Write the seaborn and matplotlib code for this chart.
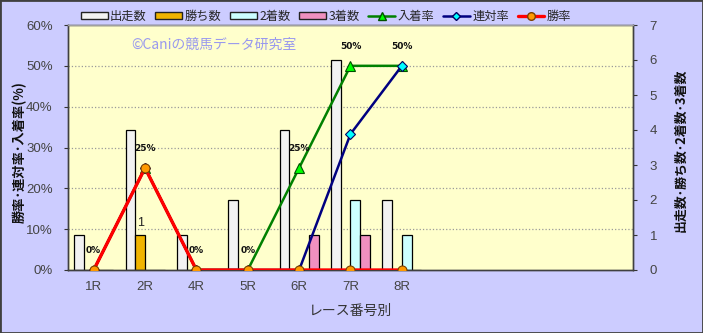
import numpy as np
import pandas as pd
import matplotlib
matplotlib.use('Agg')
import matplotlib.pyplot as plt
import seaborn as sns
from matplotlib.patches import Patch, Rectangle
from matplotlib.lines import Line2D
from matplotlib.ticker import FixedLocator

# ---- data ----
races = ['1R', '2R', '4R', '5R', '6R', '7R', '8R']
starters = [1, 4, 1, 2, 4, 6, 2]
wins = [0, 1, 0, 0, 0, 0, 0]
seconds = [0, 0, 0, 0, 0, 2, 1]
thirds = [0, 0, 0, 0, 1, 1, 0]
place_rate = [0, 25, 0, 0, 25, 50, 50]
rentai_rate = [0, 25, 0, 0, 0, 33.3, 50]
win_rate = [0, 25, 0, 0, 0, 0, 0]
count_names = ['出走数', '勝ち数', '2着数', '3着数']
rate_names = ['入着率', '連対率', '勝率']
rate_ticks = [0, 10, 20, 30, 40, 50, 60]
count_ticks = [0, 1, 2, 3, 4, 5, 6, 7]
n_slots = 11

sns.set_theme(style='white')
plt.rcParams['font.family'] = ['Noto Sans CJK JP', 'DejaVu Sans']

bar_colors = ['#F2F2F2', '#F0B400', '#CCFFFF', '#F090C0']
line_colors = ['#008000', '#000080', '#FF0000']
marker_faces = ['#00FF00', '#00FFFF', '#FF9900']
marker_edges = ['#005000', '#000060', '#7A4000']
markers = ['^', 'D', 'o']
msizes = [7, 5, 6.5]
lwidths = [1.8, 1.8, 2.4]

df_counts = pd.DataFrame({
    'race': races * 4,
    'count': starters + wins + seconds + thirds,
    'series': sum([[n] * len(races) for n in count_names], []),
})
pos = np.arange(len(races))
rates = [place_rate, rentai_rate, win_rate]

fig = plt.figure(figsize=(7.03, 3.33), dpi=100, facecolor='#CCCCFF')
ax = fig.add_axes([68 / 703, 1 - 270 / 333, (633 - 68) / 703, (270 - 25) / 333])
ax2 = ax.twinx()
ax.set_zorder(ax2.get_zorder() + 1)
ax.patch.set_visible(False)
ax2.patch.set_visible(True)
ax2.patch.set_facecolor('#FFFFCC')

# bars (counts, right axis)
sns.barplot(data=df_counts, x='race', y='count', hue='series', order=races,
            hue_order=count_names, palette=bar_colors, saturation=1,
            width=0.76, edgecolor='black', linewidth=0.9, ax=ax2, legend=False)
wins_cont = ax2.containers[1]
ax2.bar_label(wins_cont, labels=[str(v) if v > 0 else '' for v in wins],
              padding=4, fontsize=9, color='#222222', family=['Liberation Sans'])

tick_font = ['Liberation Sans']
ax2.set_ylim(0, 7)
ax2.set_xlim(-0.5, n_slots - 0.5)
ax2.yaxis.set_major_locator(FixedLocator(count_ticks))
ax2.set_yticklabels([str(t) for t in count_ticks], family=tick_font)
ax2.yaxis.set_minor_locator(FixedLocator([k * 7 / 6 for k in range(1, 6)]))
ax2.xaxis.set_minor_locator(FixedLocator([k + 0.5 for k in range(n_slots - 1)]))
ax2.grid(False)
ax2.grid(which='minor', linestyle=':', color='#9A9A9A', linewidth=0.9)
ax2.set_axisbelow(True)
ax2.tick_params(which='minor', length=0)
ax2.tick_params(axis='y', which='major', length=3, width=0.8, color='#333333',
                pad=9, labelsize=9.5, labelcolor='#444444', direction='out', right=True)
ax2.set_ylabel('出走数･勝ち数･2着数･3着数', fontsize=9.3, fontweight='bold',
               rotation=90, color='#111111', va='center')
ax2.yaxis.set_label_coords((680 - 68) / 565, 0.49)

# lines (rates, left axis)
for i, name in enumerate(rate_names):
    sns.lineplot(x=pos, y=rates[i], ax=ax, color=line_colors[i], linewidth=lwidths[i],
                 marker=markers[i], markersize=msizes[i], markerfacecolor=marker_faces[i],
                 markeredgecolor=marker_edges[i], markeredgewidth=0.8,
                 estimator=None, legend=False, zorder=3 + i)
for i, v in enumerate(place_rate):
    ax.annotate(f'{v:.0f}%', (pos[i], v), xytext=(0, 11), textcoords='offset points',
                ha='center', va='bottom', fontsize=6.5, fontweight='bold',
                family=['DejaVu Sans'], color='#111111', zorder=10)

ax.set_ylim(0, 60)
ax.set_xlim(-0.5, n_slots - 0.5)
ax.set_yticks(rate_ticks)
ax.set_yticklabels([f'{t}%' for t in rate_ticks], family=tick_font)
ax.set_xticks(pos)
ax.set_xticklabels(races, family=tick_font)
ax.grid(False)
ax.tick_params(axis='y', length=3, width=0.8, color='#333333', pad=8, labelsize=9.5,
               labelcolor='#444444', direction='out', left=True)
ax.tick_params(axis='x', which='both', length=0, pad=8, labelsize=9.5, labelcolor='#444444')
ax.set_ylabel('勝率･連対率･入着率(%)', fontsize=9.5, fontweight='bold', color='#111111',
              va='center')
ax.yaxis.set_label_coords((20 - 68) / 565, 0.48)
ax.set_xlabel('レース番号別', fontsize=10, color='#333333', labelpad=8)

for a in (ax, ax2):
    for s in a.spines.values():
        s.set_color('#404040')
        s.set_linewidth(1.0)
ax.spines['top'].set_color('#A0A0A0')

# legend
handles = [Patch(facecolor=c, edgecolor='#222222', linewidth=1.0) for c in bar_colors]
handles += [Line2D([0], [0], color=line_colors[i], linewidth=lwidths[i], marker=markers[i],
                   markersize=msizes[i] - 1, markerfacecolor=marker_faces[i],
                   markeredgecolor=marker_edges[i]) for i in range(3)]
fig.legend(handles, count_names + rate_names, loc='upper center',
           bbox_to_anchor=(326 / 703, 1.003), ncol=7, frameon=False, fontsize=8.8,
           handlelength=2.2, handleheight=0.5, handletextpad=0.2, columnspacing=0.7)

fig.text(131 / 703, 1 - 45 / 333, '©Caniの競馬データ研究室', color='#9999EE',
         fontsize=10, va='center', ha='left')

fig.patches.append(Rectangle((0, 0), 1, 1, transform=fig.transFigure, fill=False,
                             edgecolor='#404040', linewidth=2))

fig.savefig('out.png', dpi=100, facecolor=fig.get_facecolor())
